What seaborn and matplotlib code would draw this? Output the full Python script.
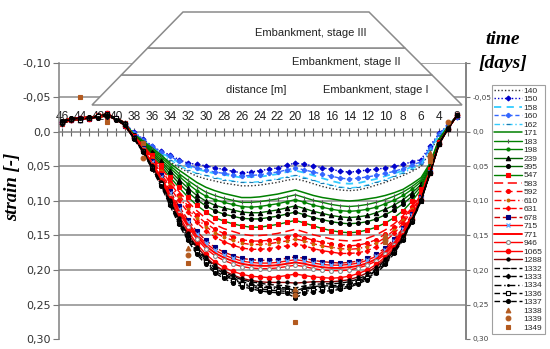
import matplotlib
matplotlib.use("Agg")
import matplotlib.pyplot as plt
from matplotlib.patches import Polygon
import seaborn as sns

sns.set_theme(style="white")
plt.rcParams['font.family'] = ['DejaVu Sans']

# ---------------- data ----------------
distance = list(range(46, 1, -1))          # 46 ... 2 m
x_tick_values = list(range(46, 1, -2))
x_tick_labels = [str(v) for v in x_tick_values]
y_ticks = [-0.10, -0.05, 0.0, 0.05, 0.10, 0.15, 0.20, 0.25, 0.30]
y_tick_labels = ["-0,10", "-0,05", "0,0", "0,05", "0,10", "0,15", "0,20", "0,25", "0,30"]
y_tick_labels_right = ["", "-0,05", "0,0", "0,05", "0,10", "0,15", "0,20", "0,25", "0,30"]
grid_levels = [-0.10, -0.05, 0.05, 0.10, 0.15, 0.20, 0.25]

s140 = [-0.015, -0.018, -0.021, -0.019, -0.022, -0.027, -0.019, -0.009,
        0.003, 0.014, 0.025, 0.035, 0.043, 0.051, 0.058, 0.064, 0.068, 0.071, 0.074, 0.076, 0.078, 0.078, 0.077, 0.075, 0.073, 0.070, 0.068, 0.071, 0.075, 0.079, 0.082, 0.084, 0.085, 0.084, 0.081, 0.077, 0.073, 0.068, 0.063, 0.057, 0.050, 0.028, 0.006, -0.008, -0.024]
s150 = [-0.014, -0.019, -0.017, -0.021, -0.023, -0.026, -0.020, -0.011,
        0.000, 0.010, 0.020, 0.028, 0.033, 0.040, 0.045, 0.047, 0.049, 0.052, 0.054, 0.057, 0.059, 0.058, 0.056, 0.054, 0.052, 0.048, 0.045, 0.047, 0.049, 0.052, 0.054, 0.057, 0.058, 0.057, 0.055, 0.054, 0.052, 0.050, 0.047, 0.043, 0.040, 0.020, 0.002, -0.010, -0.022]
s158 = [-0.016, -0.020, -0.020, -0.022, -0.021, -0.024, -0.018, -0.010,
        0.002, 0.012, 0.022, 0.030, 0.037, 0.044, 0.050, 0.054, 0.057, 0.060, 0.062, 0.064, 0.066, 0.065, 0.065, 0.063, 0.061, 0.058, 0.056, 0.059, 0.063, 0.067, 0.071, 0.074, 0.075, 0.074, 0.071, 0.068, 0.064, 0.060, 0.056, 0.050, 0.045, 0.024, 0.004, -0.009, -0.023]
s160 = [-0.012, -0.017, -0.019, -0.020, -0.024, -0.022, -0.021, -0.013,
        0.001, 0.011, 0.021, 0.029, 0.035, 0.042, 0.048, 0.052, 0.055, 0.058, 0.060, 0.062, 0.064, 0.063, 0.062, 0.060, 0.058, 0.055, 0.052, 0.055, 0.058, 0.061, 0.064, 0.067, 0.068, 0.067, 0.065, 0.063, 0.060, 0.057, 0.053, 0.048, 0.043, 0.023, 0.003, -0.009, -0.022]
s162 = [-0.014, -0.019, -0.017, -0.021, -0.023, -0.026, -0.020, -0.011,
        0.002, 0.013, 0.024, 0.033, 0.040, 0.048, 0.055, 0.060, 0.063, 0.066, 0.069, 0.071, 0.073, 0.073, 0.072, 0.070, 0.068, 0.065, 0.063, 0.066, 0.070, 0.074, 0.077, 0.080, 0.081, 0.080, 0.077, 0.073, 0.069, 0.064, 0.059, 0.053, 0.047, 0.026, 0.005, -0.008, -0.023]
s171 = [-0.016, -0.020, -0.020, -0.022, -0.021, -0.024, -0.018, -0.010,
        0.003, 0.013, 0.023, 0.033, 0.045, 0.055, 0.064, 0.073, 0.080, 0.085, 0.089, 0.092, 0.095, 0.095, 0.094, 0.092, 0.090, 0.087, 0.084, 0.088, 0.092, 0.095, 0.097, 0.099, 0.100, 0.099, 0.097, 0.095, 0.092, 0.088, 0.083, 0.075, 0.066, 0.045, 0.010, -0.008, -0.024]
s183 = [-0.012, -0.017, -0.019, -0.020, -0.024, -0.022, -0.021, -0.013,
        0.004, 0.014, 0.025, 0.036, 0.048, 0.060, 0.070, 0.079, 0.087, 0.092, 0.096, 0.099, 0.102, 0.102, 0.101, 0.099, 0.097, 0.094, 0.091, 0.095, 0.099, 0.102, 0.105, 0.107, 0.108, 0.107, 0.105, 0.102, 0.098, 0.093, 0.087, 0.079, 0.069, 0.046, 0.011, -0.007, -0.024]
s198 = [-0.015, -0.018, -0.021, -0.019, -0.022, -0.027, -0.019, -0.009,
        0.004, 0.015, 0.027, 0.039, 0.052, 0.064, 0.075, 0.085, 0.093, 0.098, 0.102, 0.105, 0.108, 0.109, 0.108, 0.106, 0.104, 0.101, 0.098, 0.102, 0.106, 0.109, 0.112, 0.114, 0.115, 0.114, 0.112, 0.109, 0.104, 0.099, 0.092, 0.083, 0.072, 0.048, 0.012, -0.007, -0.024]
s239 = [-0.014, -0.019, -0.017, -0.021, -0.023, -0.026, -0.020, -0.011,
        0.005, 0.016, 0.029, 0.042, 0.056, 0.069, 0.081, 0.092, 0.100, 0.106, 0.110, 0.113, 0.116, 0.117, 0.117, 0.115, 0.113, 0.110, 0.107, 0.111, 0.115, 0.118, 0.121, 0.123, 0.124, 0.123, 0.121, 0.117, 0.112, 0.106, 0.098, 0.088, 0.076, 0.050, 0.013, -0.006, -0.024]
s395 = [-0.016, -0.020, -0.020, -0.022, -0.021, -0.024, -0.018, -0.010,
        0.005, 0.017, 0.031, 0.045, 0.060, 0.074, 0.087, 0.098, 0.107, 0.114, 0.119, 0.122, 0.125, 0.126, 0.126, 0.124, 0.122, 0.119, 0.116, 0.120, 0.124, 0.127, 0.130, 0.132, 0.133, 0.132, 0.130, 0.126, 0.120, 0.113, 0.104, 0.093, 0.079, 0.052, 0.014, -0.006, -0.024]
s547 = [-0.012, -0.017, -0.019, -0.020, -0.024, -0.022, -0.021, -0.013,
        0.006, 0.018, 0.033, 0.048, 0.065, 0.080, 0.094, 0.106, 0.116, 0.124, 0.129, 0.133, 0.136, 0.138, 0.138, 0.136, 0.134, 0.131, 0.128, 0.132, 0.136, 0.140, 0.143, 0.145, 0.146, 0.145, 0.142, 0.138, 0.132, 0.124, 0.114, 0.100, 0.083, 0.054, 0.015, -0.005, -0.024]
s583 = [-0.015, -0.018, -0.021, -0.019, -0.022, -0.027, -0.019, -0.009,
        0.006, 0.019, 0.035, 0.051, 0.069, 0.086, 0.101, 0.114, 0.125, 0.134, 0.140, 0.144, 0.148, 0.150, 0.150, 0.149, 0.147, 0.144, 0.141, 0.145, 0.149, 0.152, 0.155, 0.157, 0.158, 0.157, 0.154, 0.149, 0.142, 0.133, 0.121, 0.106, 0.087, 0.056, 0.016, -0.005, -0.024]
s592 = [-0.014, -0.019, -0.017, -0.021, -0.023, -0.026, -0.020, -0.011,
        0.006, 0.020, 0.037, 0.054, 0.073, 0.091, 0.107, 0.121, 0.132, 0.141, 0.147, 0.152, 0.156, 0.158, 0.158, 0.157, 0.155, 0.152, 0.149, 0.153, 0.157, 0.160, 0.162, 0.164, 0.165, 0.164, 0.161, 0.156, 0.148, 0.138, 0.125, 0.109, 0.089, 0.057, 0.016, -0.005, -0.024]
s610 = [-0.016, -0.020, -0.020, -0.022, -0.021, -0.024, -0.018, -0.010,
        0.007, 0.021, 0.038, 0.056, 0.076, 0.094, 0.111, 0.125, 0.137, 0.146, 0.152, 0.157, 0.161, 0.163, 0.163, 0.162, 0.160, 0.158, 0.155, 0.158, 0.162, 0.165, 0.167, 0.169, 0.170, 0.169, 0.166, 0.161, 0.153, 0.142, 0.128, 0.111, 0.090, 0.057, 0.016, -0.005, -0.024]
s631 = [-0.012, -0.017, -0.019, -0.020, -0.024, -0.022, -0.021, -0.013,
        0.007, 0.022, 0.040, 0.059, 0.080, 0.099, 0.116, 0.131, 0.143, 0.152, 0.159, 0.164, 0.168, 0.170, 0.170, 0.169, 0.167, 0.165, 0.162, 0.165, 0.169, 0.172, 0.174, 0.176, 0.176, 0.175, 0.172, 0.166, 0.158, 0.147, 0.132, 0.114, 0.092, 0.058, 0.017, -0.005, -0.024]
s678 = [-0.015, -0.018, -0.021, -0.019, -0.022, -0.027, -0.019, -0.009,
        0.007, 0.023, 0.042, 0.062, 0.085, 0.107, 0.127, 0.144, 0.157, 0.167, 0.174, 0.179, 0.183, 0.185, 0.186, 0.186, 0.185, 0.183, 0.181, 0.183, 0.186, 0.188, 0.189, 0.190, 0.189, 0.187, 0.183, 0.177, 0.168, 0.155, 0.139, 0.119, 0.094, 0.058, 0.017, -0.005, -0.024]
s715 = [-0.014, -0.019, -0.017, -0.021, -0.023, -0.026, -0.020, -0.011,
        0.008, 0.024, 0.044, 0.065, 0.088, 0.111, 0.131, 0.148, 0.161, 0.171, 0.178, 0.183, 0.187, 0.189, 0.190, 0.190, 0.189, 0.187, 0.185, 0.187, 0.190, 0.192, 0.193, 0.193, 0.192, 0.190, 0.186, 0.180, 0.171, 0.158, 0.141, 0.121, 0.095, 0.058, 0.017, -0.005, -0.024]
s771 = [-0.016, -0.020, -0.020, -0.022, -0.021, -0.024, -0.018, -0.010,
        0.008, 0.025, 0.045, 0.067, 0.091, 0.114, 0.134, 0.151, 0.165, 0.175, 0.182, 0.187, 0.191, 0.193, 0.194, 0.194, 0.193, 0.191, 0.189, 0.191, 0.194, 0.196, 0.197, 0.197, 0.196, 0.194, 0.190, 0.184, 0.174, 0.161, 0.144, 0.123, 0.096, 0.059, 0.017, -0.005, -0.024]
s946 = [-0.012, -0.017, -0.019, -0.020, -0.024, -0.022, -0.021, -0.013,
        0.008, 0.025, 0.046, 0.068, 0.093, 0.117, 0.137, 0.155, 0.169, 0.179, 0.186, 0.191, 0.195, 0.197, 0.198, 0.198, 0.197, 0.195, 0.193, 0.195, 0.198, 0.200, 0.201, 0.201, 0.200, 0.197, 0.193, 0.187, 0.177, 0.164, 0.146, 0.124, 0.097, 0.059, 0.017, -0.005, -0.024]
s1065 = [-0.015, -0.018, -0.021, -0.019, -0.022, -0.027, -0.019, -0.009,
         0.009, 0.026, 0.048, 0.070, 0.096, 0.121, 0.143, 0.162, 0.177, 0.188, 0.196, 0.202, 0.206, 0.209, 0.210, 0.211, 0.210, 0.208, 0.206, 0.208, 0.210, 0.211, 0.212, 0.211, 0.209, 0.205, 0.200, 0.192, 0.181, 0.167, 0.149, 0.126, 0.098, 0.059, 0.017, -0.005, -0.024]
s1288 = [-0.014, -0.019, -0.017, -0.021, -0.023, -0.026, -0.020, -0.011,
         0.009, 0.027, 0.049, 0.072, 0.099, 0.125, 0.147, 0.166, 0.181, 0.193, 0.201, 0.207, 0.212, 0.215, 0.217, 0.218, 0.218, 0.218, 0.219, 0.218, 0.217, 0.217, 0.217, 0.216, 0.214, 0.210, 0.204, 0.195, 0.184, 0.170, 0.151, 0.127, 0.098, 0.059, 0.017, -0.005, -0.024]
s1332 = [-0.016, -0.020, -0.020, -0.022, -0.021, -0.024, -0.018, -0.010,
         0.009, 0.027, 0.050, 0.073, 0.100, 0.127, 0.149, 0.168, 0.183, 0.195, 0.203, 0.209, 0.214, 0.217, 0.219, 0.221, 0.222, 0.223, 0.226, 0.223, 0.221, 0.220, 0.220, 0.219, 0.217, 0.213, 0.207, 0.198, 0.186, 0.171, 0.152, 0.127, 0.098, 0.059, 0.017, -0.005, -0.024]
s1333 = [-0.012, -0.017, -0.019, -0.020, -0.024, -0.022, -0.021, -0.013,
         0.009, 0.027, 0.050, 0.074, 0.101, 0.129, 0.151, 0.170, 0.185, 0.197, 0.205, 0.212, 0.217, 0.220, 0.222, 0.224, 0.225, 0.226, 0.230, 0.226, 0.224, 0.223, 0.223, 0.222, 0.220, 0.215, 0.209, 0.200, 0.188, 0.172, 0.153, 0.128, 0.099, 0.059, 0.017, -0.005, -0.024]
s1334 = [-0.015, -0.018, -0.021, -0.019, -0.022, -0.027, -0.019, -0.009,
         0.009, 0.028, 0.051, 0.075, 0.102, 0.130, 0.152, 0.172, 0.187, 0.199, 0.207, 0.214, 0.219, 0.222, 0.224, 0.226, 0.227, 0.228, 0.232, 0.228, 0.226, 0.225, 0.225, 0.224, 0.221, 0.216, 0.210, 0.201, 0.189, 0.173, 0.154, 0.128, 0.099, 0.059, 0.017, -0.005, -0.024]
s1336 = [-0.014, -0.019, -0.017, -0.021, -0.023, -0.026, -0.020, -0.011,
         0.009, 0.028, 0.052, 0.076, 0.104, 0.132, 0.155, 0.174, 0.189, 0.201, 0.209, 0.216, 0.221, 0.224, 0.227, 0.229, 0.230, 0.231, 0.235, 0.231, 0.229, 0.228, 0.227, 0.226, 0.223, 0.218, 0.212, 0.203, 0.190, 0.174, 0.155, 0.129, 0.100, 0.059, 0.017, -0.005, -0.024]
s1337 = [-0.016, -0.020, -0.020, -0.022, -0.021, -0.024, -0.018, -0.010,
         0.010, 0.029, 0.053, 0.078, 0.106, 0.134, 0.157, 0.177, 0.192, 0.204, 0.212, 0.219, 0.224, 0.227, 0.230, 0.232, 0.233, 0.234, 0.240, 0.234, 0.232, 0.231, 0.230, 0.228, 0.225, 0.220, 0.214, 0.205, 0.192, 0.176, 0.156, 0.130, 0.100, 0.060, 0.018, -0.005, -0.024]

# sparse readings (markers only)
d1338 = [32, 20, 10, 5]
s1338 = [0.168, 0.228, 0.150, 0.030]
d1339 = [37, 32, 20, 10, 5, 3]
s1339 = [0.038, 0.178, 0.236, 0.156, 0.036, -0.015]
d1349 = [44, 41, 37, 32, 20, 10, 5]
s1349 = [-0.050, -0.014, 0.016, 0.190, 0.275, 0.160, 0.042]

# ---------------- styles ----------------
RED, GREEN, DKGREEN = "#ff0000", "#008000", "#006400"
BLUE, CYAN, MBLUE, NAVY, BROWN = "#0000cc", "#33ccff", "#3366ff", "#000080", "#b35a1f"


def st(color, ls="-", lw=1.0, marker=None, ms=3.0, mfc=None, mec=None, mew=0.8):
    d = dict(color=color, linestyle=ls, linewidth=lw)
    if marker is not None:
        d.update(marker=marker, markersize=ms,
                 markerfacecolor=mfc if mfc else color,
                 markeredgecolor=mec if mec else (mfc if mfc else color),
                 markeredgewidth=mew)
    return d


series = [
    ("140", distance, s140, st("#333333", (0, (1, 1.5)), 1.0)),
    ("150", distance, s150, st(BLUE, (0, (1, 1.5)), 1.0, "D", 2.5)),
    ("158", distance, s158, st(CYAN, (0, (4, 3)), 1.3)),
    ("160", distance, s160, st(MBLUE, (0, (3, 2)), 1.0, "P", 3.0)),
    ("162", distance, s162, st(CYAN, (0, (4, 2, 1, 2)), 1.0, "_", 3, mec="#2277aa")),
    ("171", distance, s171, st(GREEN, "-", 1.1)),
    ("183", distance, s183, st(GREEN, "-", 1.0, "|", 3, mec="#555555")),
    ("198", distance, s198, st(GREEN, "-", 1.0, "o", 2.2)),
    ("239", distance, s239, st(DKGREEN, "-", 1.0, "^", 3.2, mfc="black", mec="black")),
    ("395", distance, s395, st(DKGREEN, "-", 1.0, "o", 2.8, mfc="black", mec="black")),
    ("547", distance, s547, st(GREEN, "-", 1.0, "s", 3.2, mfc=RED, mec=RED)),
    ("583", distance, s583, st(RED, (0, (6, 3)), 1.1)),
    ("592", distance, s592, st(RED, (0, (5, 3)), 1.0, "o", 2.8)),
    ("610", distance, s610, st(RED, (0, (5, 2, 1, 2)), 1.0, "o", 2.0, mfc="#cc6600", mec="#cc6600")),
    ("631", distance, s631, st(RED, (0, (4, 2)), 1.0, "D", 2.3)),
    ("678", distance, s678, st("#cc0000", (0, (4, 2)), 1.0, "s", 3.2, mfc=NAVY, mec=NAVY)),
    ("715", distance, s715, st(RED, "-", 1.0, "x", 2.8, mec="#66aaff", mew=1.0)),
    ("771", distance, s771, st(RED, "-", 1.4)),
    ("946", distance, s946, st(RED, "-", 1.0, "o", 2.8, mfc="white", mec="#888888")),
    ("1065", distance, s1065, st(RED, "-", 1.0, "o", 3.2)),
    ("1288", distance, s1288, st("#8b0000", "-", 1.0, "o", 2.3, mfc="black", mec="black")),
    ("1332", distance, s1332, st("black", (0, (4, 2)), 1.0, "_", 3)),
    ("1333", distance, s1333, st("black", (0, (4, 2)), 1.0, "D", 2.3)),
    ("1334", distance, s1334, st("black", (0, (5, 2, 1, 2)), 1.0, ".", 2.5)),
    ("1336", distance, s1336, st("black", (0, (4, 2)), 1.0, "s", 2.8, mfc="white", mec="black")),
    ("1337", distance, s1337, st("black", (0, (4, 2)), 1.0, "o", 2.8)),
    ("1338", d1338, s1338, st(BROWN, "none", 1.0, "^", 3.4)),
    ("1339", d1339, s1339, st(BROWN, "none", 1.0, "o", 3.4)),
    ("1349", d1349, s1349, st(BROWN, "none", 1.0, "s", 3.4)),
]

# ---------------- figure ----------------
fig = plt.figure(figsize=(5.5, 3.49), dpi=100)
ax = fig.add_axes([59 / 550, 1 - 339 / 349, (466 - 59) / 550, (339 - 63) / 349])
ax.set_facecolor("white")

for lev in grid_levels:
    ax.axhline(lev, color="#8c8c8c", linewidth=1.1, zorder=0.5)

for name, xs, ys, kw in series:
    sns.lineplot(x=xs, y=ys, ax=ax, label=name, legend=False, sort=False,
                 errorbar=None, zorder=3, **kw)

ax.set_xlim(46.35, 1.0)
ax.set_ylim(0.30, -0.10)
ax.set_xlabel("")
ax.set_ylabel("")

# x axis: spine at strain 0, labels above it
ax.spines["top"].set_position(("data", 0.0))
ax.spines["bottom"].set_visible(False)
for s in ["top", "left", "right"]:
    ax.spines[s].set_color("#808080")
    ax.spines[s].set_linewidth(1.1)
ax.xaxis.set_ticks_position("top")
ax.set_xticks(x_tick_values)
ax.set_xticklabels(x_tick_labels, fontfamily="Liberation Sans", fontsize=8.6, color="#222222")
ax.set_xticks(distance, minor=True)
ax.tick_params(axis="x", which="both", direction="inout", length=5.5, width=0.8,
               color="#666666", pad=3.5)

ax.set_yticks(y_ticks)
ax.set_yticklabels(y_tick_labels, fontsize=8, color="#333333")
ax.tick_params(axis="y", which="major", direction="out", length=4, width=0.8,
               color="#777777", pad=2, left=True)

ax2 = ax.twinx()
ax2.set_ylim(0.30, -0.10)
ax2.set_yticks(y_ticks)
ax2.set_yticklabels(y_tick_labels_right, fontsize=5.3, color="#444444")
ax2.tick_params(axis="y", direction="out", length=3, width=0.8, color="#777777", pad=1.5)
for s in ["top", "bottom", "left"]:
    ax2.spines[s].set_visible(False)
ax2.spines["right"].set_color("#808080")
ax2.spines["right"].set_linewidth(1.1)
ax2.grid(False)

# ---------------- embankment sketch ----------------
W, H = 550.0, 349.0
def fp(x, y):
    return (x / W, 1 - y / H)

stages = [
    [fp(92, 105), fp(462, 105), fp(432, 75), fp(121.3, 75)],
    [fp(121.3, 75), fp(432, 75), fp(405, 48), fp(147.7, 48)],
    [fp(147.7, 48), fp(405, 48), fp(369, 12), fp(183, 12)],
]
for verts in stages:
    fig.add_artist(Polygon(verts, closed=True, facecolor="white", edgecolor="#8a8a8a",
                           linewidth=1.1, transform=fig.transFigure, zorder=1))

txt = dict(fontfamily="Liberation Sans", fontsize=8, color="#222222", ha="center", va="center", zorder=5)
fig.text(*fp(311, 33), "Embankment, stage III", **txt)
fig.text(*fp(346, 62), "Embankment, stage II", **txt)
fig.text(*fp(256, 90), "distance [m]", **txt)
fig.text(*fp(376, 90), "Embankment, stage I", **txt)

ser = dict(fontfamily="Liberation Serif", fontweight="bold", fontstyle="italic",
           color="black", ha="center", va="center")
fig.text(*fp(503, 40), "time", fontsize=14, **ser)
fig.text(*fp(503, 64), "[days]", fontsize=14, **ser)
fig.text(*fp(13, 187), "strain [-]", fontsize=13.5, rotation=90, **ser)

handles, labels = ax.get_legend_handles_labels()
leg = fig.legend(handles, labels, loc="upper left", bbox_to_anchor=fp(492, 85),
                 bbox_transform=fig.transFigure, frameon=True, fancybox=False,
                 prop={"family": "Liberation Sans", "size": 6}, labelspacing=0.075,
                 handlelength=3.3, handletextpad=0.25, borderpad=0.25, borderaxespad=0,
                 edgecolor="#888888")
leg.get_frame().set_linewidth(0.8)

fig.savefig("out.png", dpi=100, facecolor="white")
